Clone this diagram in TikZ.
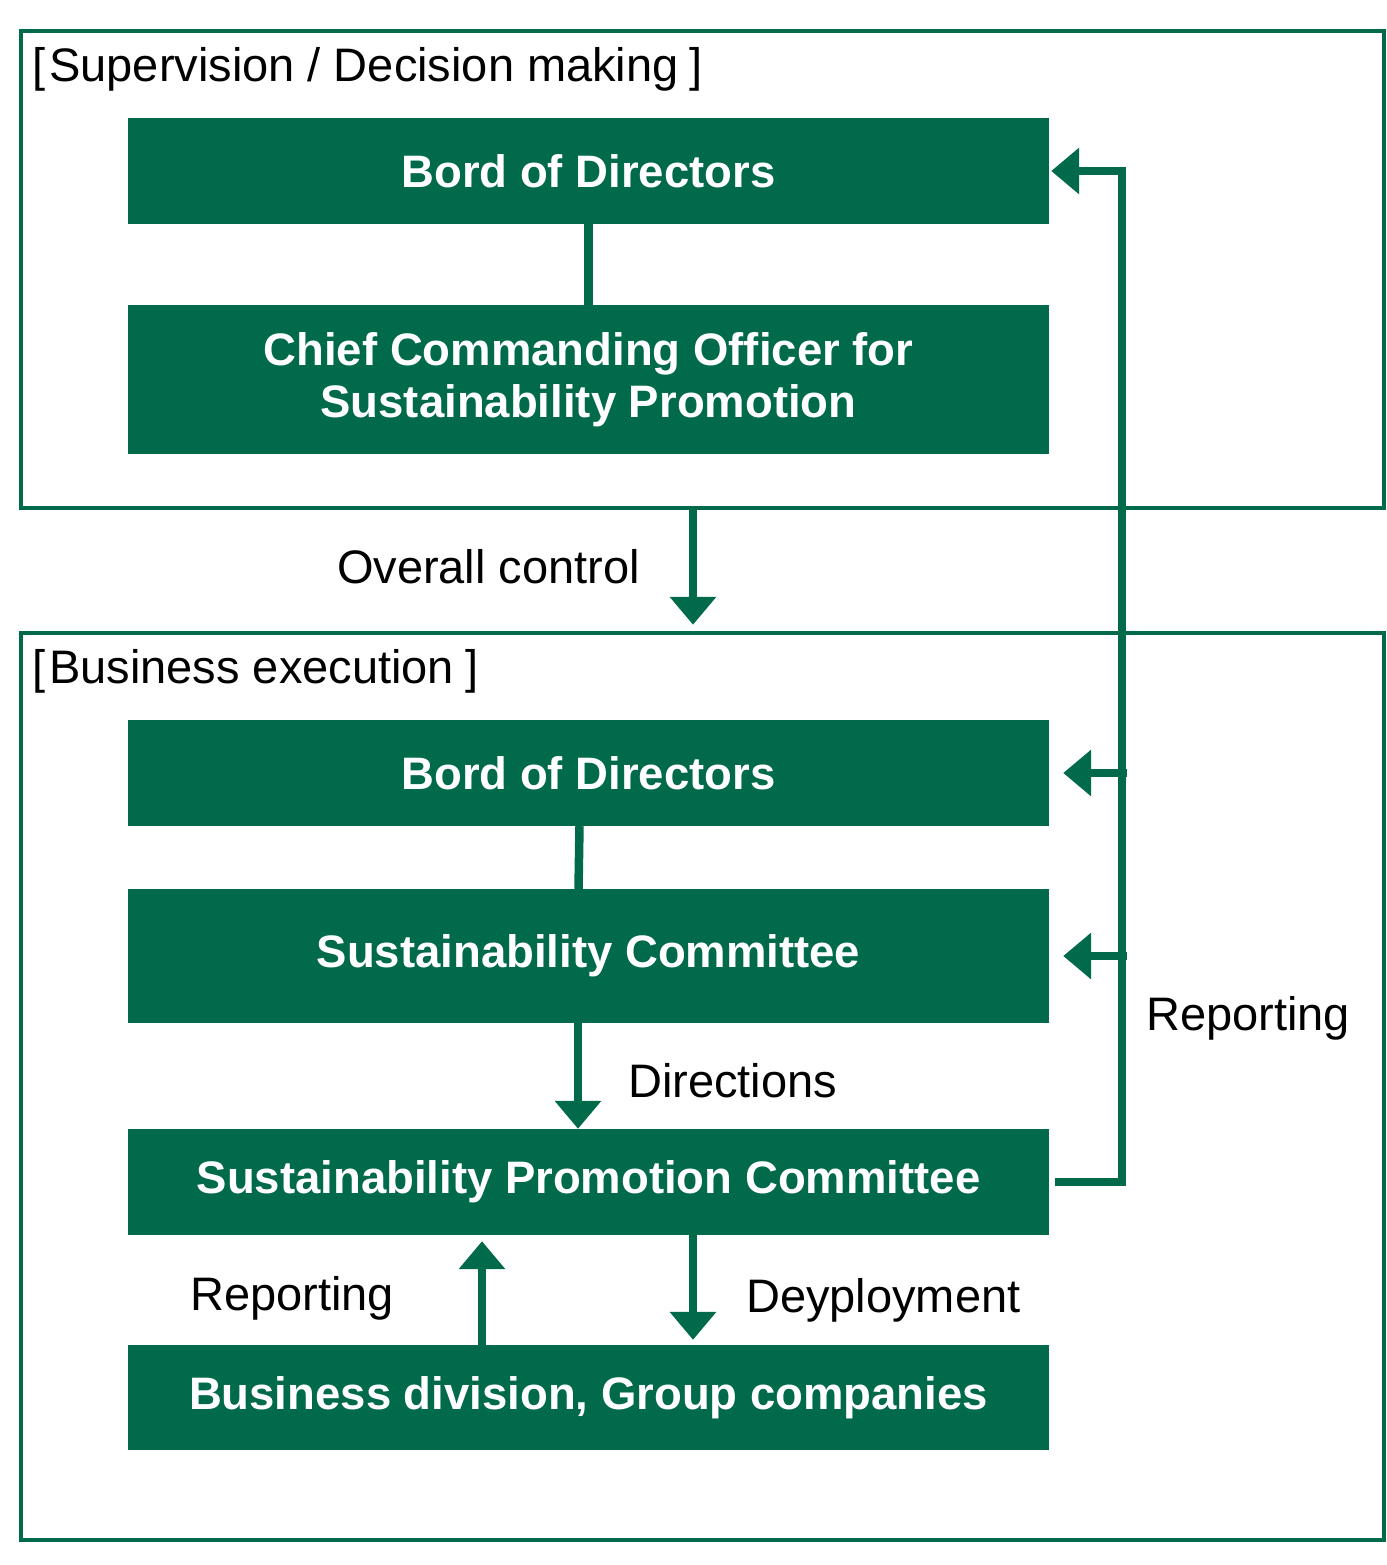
\documentclass[tikz,border=0pt]{standalone}
\usepackage{fontspec}
\setmainfont{Liberation Sans}
\usetikzlibrary{arrows.meta}
\definecolor{dg}{RGB}{0,106,74}
\begin{document}
\begin{tikzpicture}[x=1pt,y=-1pt,
  frame/.style={draw=dg,line width=4.5pt,inner sep=0pt,fill=none},
  gbox/.style={fill=dg,inner sep=0pt,minimum width=921pt,text=white,align=center,
     font=\fontsize{45.5}{52}\selectfont\bfseries},
  lbl/.style={inner sep=0pt,anchor=base west,font=\fontsize{47}{52}\selectfont},
  conn/.style={draw=dg,line width=8.5pt},
  arr/.style={draw=dg,line width=8.5pt,-{Triangle[width=45pt,length=28pt]}}
]
\useasboundingbox (0,0) rectangle (1386,1565);
% frames
\node[frame,minimum width=1363pt,minimum height=477pt] (sup) at (702.5,269.5) {};
\node[frame,minimum width=1363pt,minimum height=907pt] (bus) at (702.5,1086.5) {};
\node[lbl] (tsup) at (32,82) {[\kern4pt Supervision / Decision making\kern11pt]};
\node[lbl] (tbus) at (32,683) {[\kern4pt Business execution\kern11pt]};
% boxes
\node[gbox,minimum height=106pt] (bod1) at (588.5,171) {Bord of Directors};
\node[gbox,minimum height=149pt] (cco) at (588.5,379.5) {Chief Commanding Officer for\\Sustainability Promotion};
\node[gbox,minimum height=106pt] (bod2) at (588.5,773) {Bord of Directors};
\node[gbox,minimum height=134pt] (sc) at (588.5,956) {Sustainability Committee};
\node[gbox,minimum height=106pt] (spc) at (588.5,1182) {Sustainability Promotion Committee};
\node[gbox,minimum height=105pt] (bdg) at (588.5,1397.5) {Business division, Group companies};
% labels
\node[lbl,anchor=base] (toc) at (488.5,583) {Overall control};
\node[lbl] (tdir) at (628,1097) {Directions};
\node[lbl] (trep1) at (1146,1030) {Reporting};
\node[lbl] (trep2) at (190,1310) {Reporting};
\node[lbl] (tdep) at (746,1312) {Deyployment};
% connectors
\draw[conn] (bod1) -- (cco);
\draw[conn] ([xshift=-9pt]bod2.south) -- ([xshift=-10pt]sc.north);
\draw[arr] (sup.south -| 693,0) -- ([yshift=6pt]bus.north -| 693,0);
\draw[arr] ([xshift=-10.5pt]sc.south) -- ([xshift=-10.5pt]spc.north);
\draw[arr] (bdg.north -| 482,0) -- ([yshift=-6pt]spc.south -| 482,0);
\draw[arr] (spc.south -| 693,0) -- ([yshift=5pt]bdg.north -| 693,0);
\coordinate (rx) at (1122,0);
\draw[arr] ([xshift=6pt]spc.east) -| (rx |- bod1.east) -- ([xshift=2pt]bod1.east);
\draw[arr] ([xshift=5pt]rx |- bod2.east) -- ([xshift=14pt]bod2.east);
\draw[arr] ([xshift=5pt]rx |- sc.east) -- ([xshift=14pt]sc.east);
\end{tikzpicture}
\end{document}
